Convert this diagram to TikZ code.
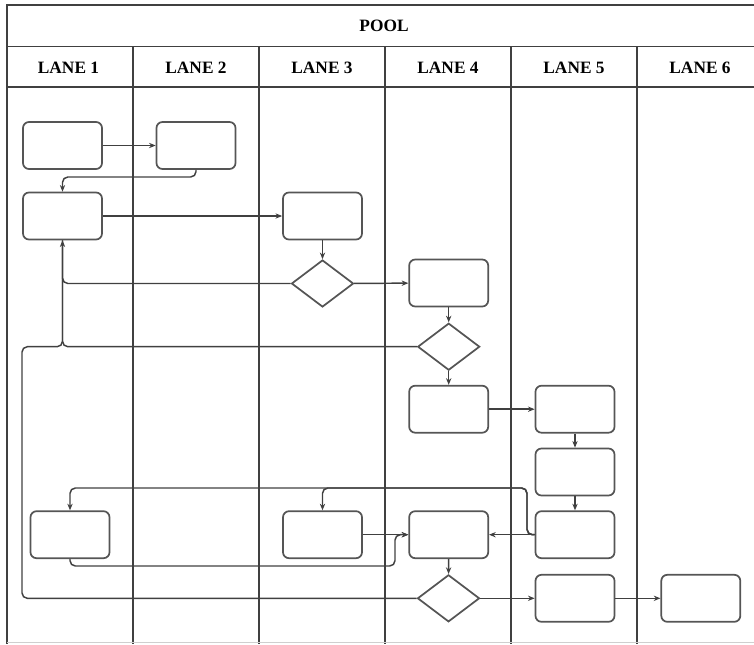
\documentclass[tikz,border=0pt]{standalone}
\usepackage{fontspec}
\setmainfont{Liberation Serif}
\usetikzlibrary{arrows.meta,shapes.geometric}
\definecolor{ln}{HTML}{404040}
\definecolor{bx}{HTML}{555555}
\tikzset{
  hdr/.style={font=\fontsize{13}{15}\selectfont\bfseries, text=black},
  grid/.style={draw=ln, line width=1.2pt},
  task/.style={draw=bx, line width=1.3pt, rounded corners=4.5pt, minimum width=59.25pt, minimum height=35.25pt, inner sep=0pt},
  gate/.style={draw=bx, diamond, line width=1.3pt, minimum width=46.5pt, minimum height=35.25pt, inner sep=0pt},
  flow/.style={draw=ln, line width=1.1pt, rounded corners=4pt},
  arr/.style={flow, -{Stealth[length=5pt,width=4pt,fill=black]}}
}
\begin{document}
\begin{tikzpicture}[x=0.75pt,y=-0.75pt]
\useasboundingbox (0,0) rectangle (754,644);
% pool / lanes
\draw[grid] (754,5) -- (7,5) -- (7,644);
\draw[grid] (7,46.5) -- (754,46.5);
\draw[grid] (7,87) -- (754,87);
\foreach \x in {133,259,385,511,637} \draw[grid] (\x,46.5) -- (\x,644);
\draw[draw=ln!25, line width=0.8pt] (7,642.5) -- (754,642.5);
\node[hdr] (pool) at (384,26) {POOL};
\node[hdr] (l1) at (68.5,67.5) {LANE 1};
\node[hdr] (l2) at (196,67.5) {LANE 2};
\node[hdr] (l3) at (322,67.5) {LANE 3};
\node[hdr] (l4) at (448,67.5) {LANE 4};
\node[hdr] (l5) at (574,67.5) {LANE 5};
\node[hdr] (l6) at (700,67.5) {LANE 6};
% shapes
\node[task] (A1) at (62.5,145.5) {};
\node[task] (A2) at (196,145.5) {};
\node[task] (B1) at (62.5,216) {};
\node[task] (C1) at (322.5,216) {};
\node[gate] (D1) at (322.5,283.5) {};
\node[task] (E1) at (448.7,283) {};
\node[gate] (D2) at (448.7,346.7) {};
\node[task] (F1) at (448.7,409.2) {};
\node[task] (G1) at (575,409.2) {};
\node[task] (G2) at (575,472) {};
\node[task] (G3) at (575,534.7) {};
\node[task] (F2) at (448.7,534.7) {};
\node[gate] (D3) at (448.5,598.3) {};
\node[task] (G4) at (575,598.3) {};
\node[task] (H6) at (700.8,598.3) {};
\node[task] (H1) at (70,534.7) {};
\node[task] (C2) at (322.5,534.7) {};
% connectors
\draw[arr] (A1) -- (A2);
\draw[arr] (A2.south) -- (196,177) -| (B1.north);
\draw[arr] (B1) -- (C1);
\draw[arr] (C1) -- (D1);
\draw[arr] (D1.west) -| (B1.south);
\draw[arr] (D1) -- (E1);
\draw[arr] (E1) -- (D2);
\draw[flow] (D2.west) -| (B1.south);
\draw[flow] (D3.west) -- (22,598.3) -- (22,346.7) -- (62.5,346.7) -- (B1.south);
\draw[arr] (D2) -- (F1);
\draw[arr] (F1) -- (G1);
\draw[arr] (G1) -- (G2);
\draw[arr] (G2) -- (G3);
\draw[arr] (G3) -- (F2);
\draw[arr] (G3.west) -- (527,534.7) -- (527,488) -| (H1.north);
\draw[arr] (G3.west) -- (527,534.7) -- (527,488) -| (C2.north);
\draw[arr] (C2) -- (F2);
\draw[arr] (H1.south) -- (70,566) -- (395,566) -- (395,534.7) -- (F2.west);
\draw[arr] (F2) -- (D3);
\draw[arr] (D3) -- (G4);
\draw[arr] (G4) -- (H6);
\end{tikzpicture}
\end{document}
